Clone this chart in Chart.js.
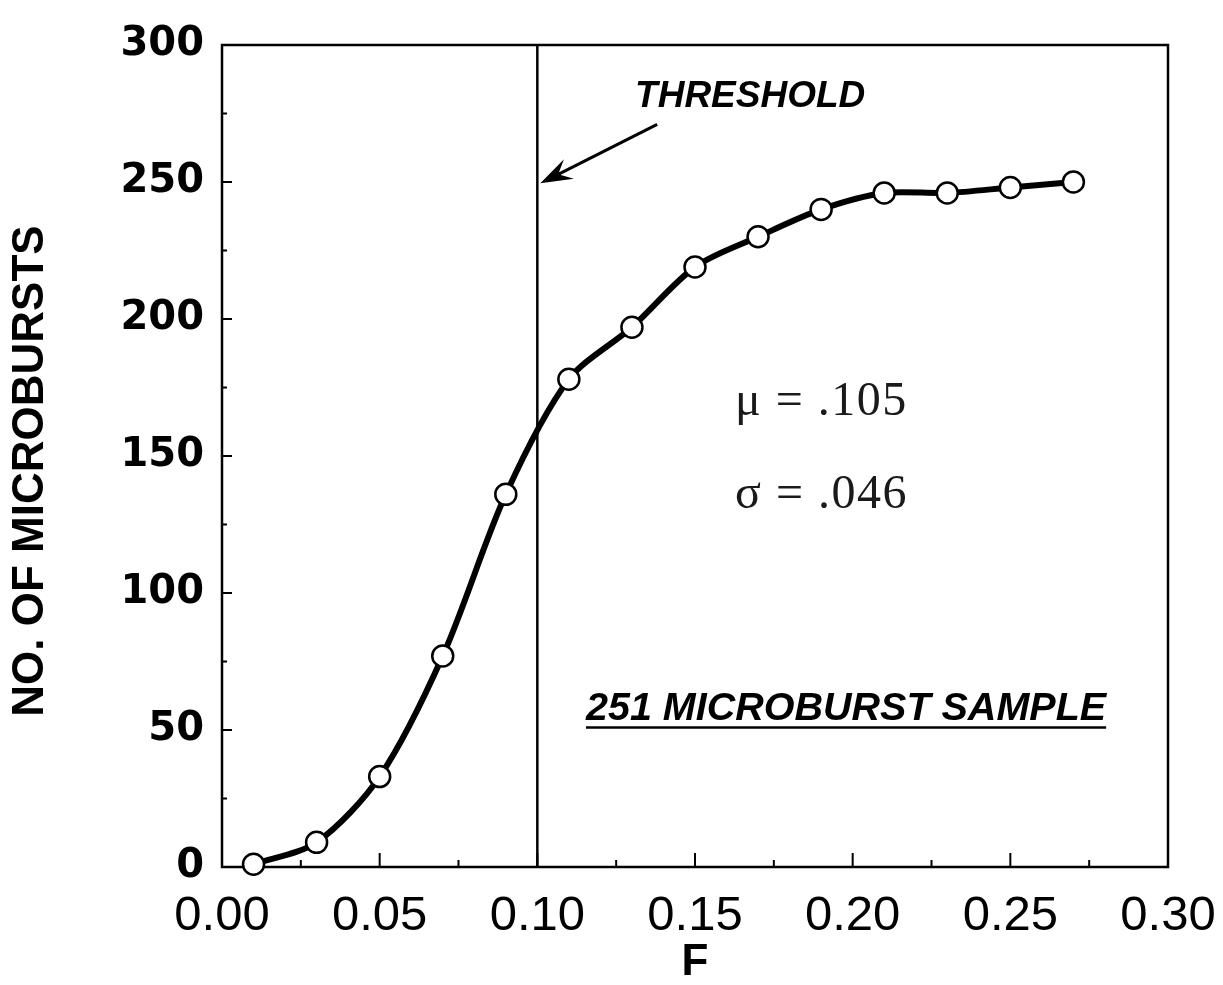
<!DOCTYPE html>
<html><head><meta charset="utf-8">
<script src="https://cdn.jsdelivr.net/npm/chart.js@4/dist/chart.umd.min.js"></script>
<style>html,body{margin:0;padding:0;background:#fff;} #wrap{width:1223px;height:985px;}</style>
</head><body><div id="wrap"><canvas id="c" width="1223" height="985"></canvas></div>
<script>
const fValues = [0.01, 0.03, 0.05, 0.07, 0.09, 0.11, 0.13, 0.15, 0.17, 0.19, 0.21, 0.23, 0.25, 0.27];
const counts  = [1, 9, 33, 77, 136, 178, 197, 219, 230, 240, 246, 246, 248, 250];
const xTickLabels = ['0.00', '0.05', '0.10', '0.15', '0.20', '0.25', '0.30'];
const yTickLabels = ['0', '50', '100', '150', '200', '250', '300'];
const xMinorTicks = [0, 0.025, 0.05, 0.075, 0.1, 0.125, 0.15, 0.175, 0.2, 0.225, 0.25, 0.275, 0.3];
const yMinorTicks = [0, 25, 50, 75, 100, 125, 150, 175, 200, 225, 250, 275, 300];
const thresholdF = 0.10;
const xTitle = 'F';
const yTitle = 'NO. OF MICROBURSTS';
const thresholdText = 'THRESHOLD';
const muText = '\u03bc = .105';
const sigmaText = '\u03c3 = .046';
const sampleText = '251 MICROBURST SAMPLE';

const decor = {
  id: 'decor',
  beforeDatasetsDraw(chart) {
    const {ctx, chartArea: a, scales: {x, y}} = chart;
    ctx.save();
    ctx.strokeStyle = '#000';
    ctx.lineWidth = 2.5;
    ctx.strokeRect(a.left, a.top, a.right - a.left, a.bottom - a.top);
    ctx.lineWidth = 2;
    yMinorTicks.forEach(v => {
      const py = y.getPixelForValue(v);
      const len = (v % 50 === 0) ? 10 : 5;
      ctx.beginPath(); ctx.moveTo(a.left, py); ctx.lineTo(a.left + len, py); ctx.stroke();
    });
    xMinorTicks.forEach(v => {
      const px = x.getPixelForValue(v);
      const major = Math.abs(v / 0.05 - Math.round(v / 0.05)) < 1e-6;
      const len = major ? 14 : 7;
      ctx.beginPath(); ctx.moveTo(px, a.bottom); ctx.lineTo(px, a.bottom - len); ctx.stroke();
    });
    const tx = x.getPixelForValue(thresholdF);
    ctx.lineWidth = 2.5;
    ctx.beginPath(); ctx.moveTo(tx, a.top); ctx.lineTo(tx, a.bottom); ctx.stroke();
    ctx.restore();
  },
  afterDraw(chart) {
    const {ctx, chartArea: a, scales: {x, y}} = chart;
    ctx.save();
    ctx.fillStyle = '#000';
    ctx.strokeStyle = '#000';
    // arrow
    const tipX = x.getPixelForValue(thresholdF) + 3, tipY = y.getPixelForValue(249.5);
    const tailX = x.getPixelForValue(0.138), tailY = y.getPixelForValue(271);
    const ang = Math.atan2(tipY - tailY, tipX - tailX);
    const c = Math.cos(ang), s = Math.sin(ang);
    ctx.lineWidth = 3;
    ctx.beginPath(); ctx.moveTo(tailX, tailY);
    ctx.lineTo(tipX - 20 * c, tipY - 20 * s); ctx.stroke();
    ctx.beginPath();
    ctx.moveTo(tipX, tipY);
    ctx.lineTo(tipX - 32 * c + 11 * s, tipY - 32 * s - 11 * c);
    ctx.lineTo(tipX - 20 * c, tipY - 20 * s);
    ctx.lineTo(tipX - 32 * c - 11 * s, tipY - 32 * s + 11 * c);
    ctx.closePath(); ctx.fill();
    // threshold label
    ctx.font = 'italic bold 37px "Liberation Sans", Arial, sans-serif';
    ctx.textAlign = 'center'; ctx.textBaseline = 'alphabetic';
    ctx.fillText(thresholdText, x.getPixelForValue(0.1675), y.getPixelForValue(277.3));
    // stats
    ctx.fillStyle = '#1a1a1a';
    ctx.font = '48px "Liberation Serif", "Times New Roman", serif';
    ctx.textAlign = 'left';
    ctx.letterSpacing = '1.5px';
    ctx.fillText(muText, x.getPixelForValue(0.1627), y.getPixelForValue(165));
    ctx.fillText(sigmaText, x.getPixelForValue(0.1627), y.getPixelForValue(131));
    ctx.letterSpacing = '0px';
    // sample label
    ctx.fillStyle = '#000';
    ctx.font = 'italic bold 39.5px "Liberation Sans", Arial, sans-serif';
    ctx.textAlign = 'center';
    const sx = x.getPixelForValue(0.1979), sy = y.getPixelForValue(53.5);
    ctx.fillText(sampleText, sx, sy);
    const w = ctx.measureText(sampleText).width;
    ctx.lineWidth = 2.5;
    ctx.beginPath(); ctx.moveTo(sx - w / 2, sy + 7); ctx.lineTo(sx + w / 2, sy + 7); ctx.stroke();
    // y title
    ctx.save();
    ctx.translate(31, (a.top + a.bottom) / 2 + 15);
    ctx.rotate(-Math.PI / 2);
    ctx.font = 'bold 44px "Liberation Sans", Arial, sans-serif';
    ctx.textAlign = 'center'; ctx.textBaseline = 'middle';
    ctx.fillText(yTitle, 0, 0);
    ctx.restore();
    ctx.restore();
  }
};

new Chart(document.getElementById('c'), {
  type: 'line',
  data: {
    datasets: [{
      data: fValues.map((f, i) => ({x: f, y: counts[i]})),
      borderColor: '#000',
      borderWidth: 6,
      tension: 0.3,
      pointRadius: 10.5,
      pointBorderWidth: 2.5,
      pointBackgroundColor: '#fff',
      pointBorderColor: '#000',
      clip: false
    }]
  },
  options: {
    responsive: false,
    animation: false,
    devicePixelRatio: 1,
    layout: {padding: {top: 45, right: 55, left: 0, bottom: 0}},
    plugins: {legend: {display: false}, tooltip: {enabled: false}},
    scales: {
      x: {
        type: 'linear', min: 0, max: 0.3,
        grid: {display: false}, border: {display: false},
        ticks: {
          stepSize: 0.05, autoSkip: false, maxRotation: 0, padding: 12,
          color: '#000',
          font: {family: '"Liberation Sans", Arial, sans-serif', size: 49, lineHeight: 1.2},
          callback: v => xTickLabels[Math.round(v / 0.05)]
        },
        title: {display: true, text: xTitle, color: '#000', padding: {top: 0, bottom: 0},
          font: {family: '"Liberation Sans", Arial, sans-serif', size: 44, weight: 'bold', lineHeight: 1}},
        afterFit: s => { s.height = 118; s.paddingLeft = 0; s.paddingRight = 0; }
      },
      y: {
        type: 'linear', min: 0, max: 300,
        grid: {display: false}, border: {display: false},
        ticks: {
          stepSize: 50, padding: 10, color: '#000',
          font: {family: '"DejaVu Sans", sans-serif', size: 40, weight: 'bold'},
          callback: v => yTickLabels[Math.round(v / 50)]
        },
        afterFit: s => { s.width = 222; s.paddingTop = 0; s.paddingBottom = 0; }
      }
    }
  },
  plugins: [decor]
});
</script>
</body></html>
